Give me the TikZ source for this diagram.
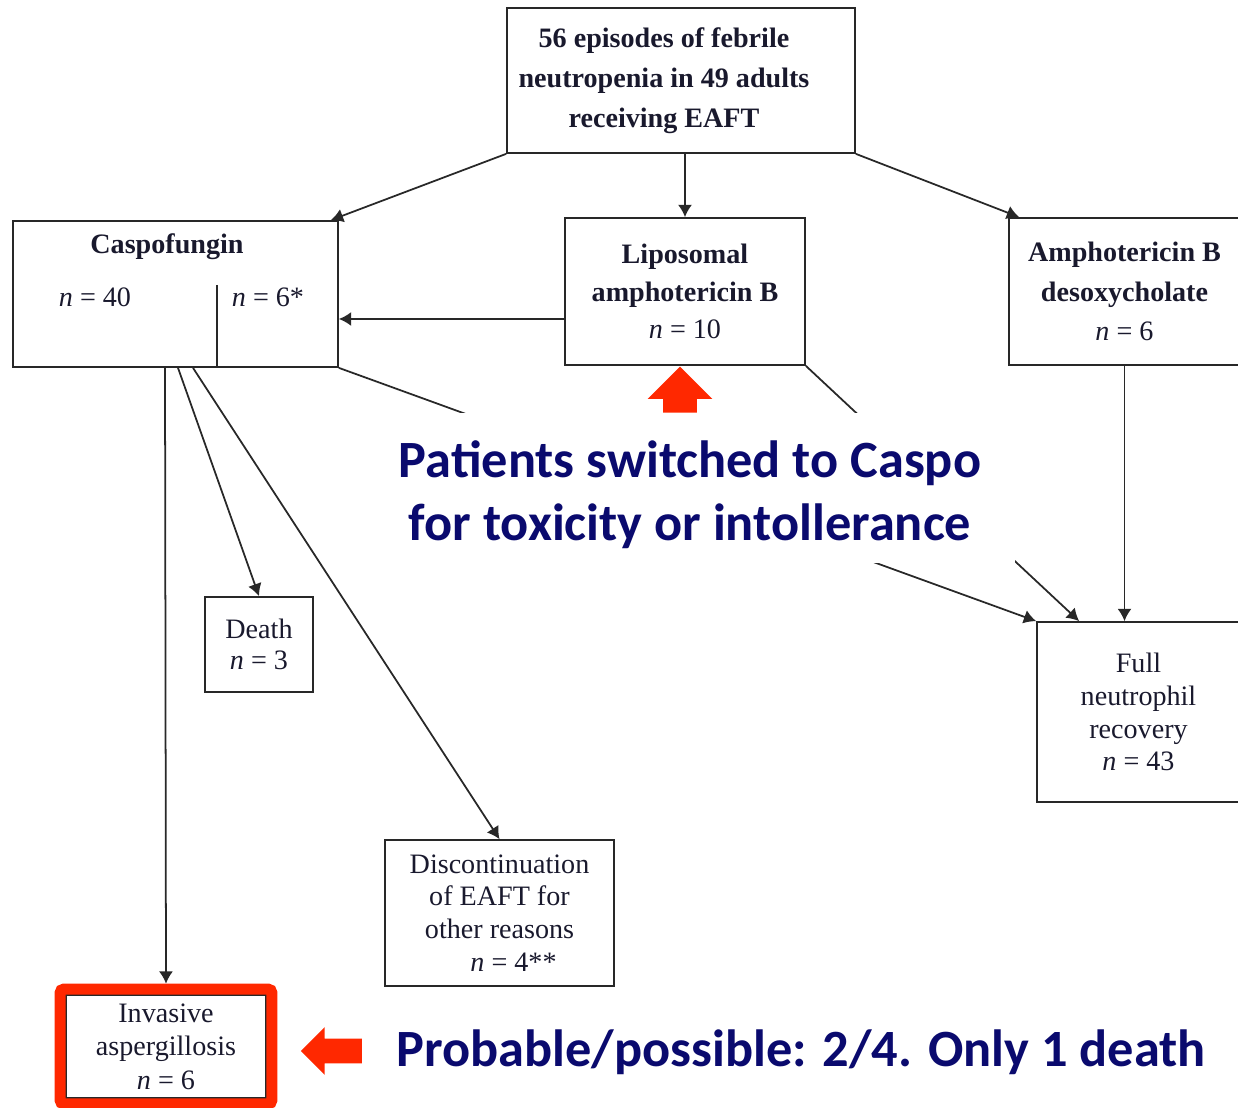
\documentclass[tikz,border=0pt]{standalone}
\usepackage{fontspec}
\setmainfont{Liberation Serif}
\newfontfamily\notefont{Carlito}
\usepackage{xcolor}
\usetikzlibrary{arrows.meta,shapes.arrows,fit}

\definecolor{navytext}{RGB}{10,10,110}
\definecolor{alertred}{RGB}{255,40,0}
\definecolor{boxline}{RGB}{40,40,40}
\definecolor{boxtext}{RGB}{25,25,45}

\begin{document}
\begin{tikzpicture}[x=0.02cm, y=-0.02cm, >={Latex[length=7pt,width=8pt]}]
    \tikzstyle{box}=[rectangle, draw=boxline, line width=1pt, align=center, text=boxtext, inner sep=0pt, font=\fontsize{16}{18.7}\selectfont]
    \tikzstyle{headbox}=[box, font=\fontsize{16}{22.5}\selectfont\bfseries]
    \tikzstyle{plain}=[text=boxtext, inner sep=0pt, align=center, font=\fontsize{16}{19}\selectfont]
    \tikzstyle{link}=[->, draw=boxline, line width=1pt]
    \tikzstyle{note}=[text=navytext, align=center, font=\notefont\bfseries\fontsize{29.8}{35.7}\selectfont]
    \tikzstyle{redarrow}=[single arrow, fill=alertred, inner xsep=0pt, single arrow tip angle=90]

    \useasboundingbox (0,0) rectangle (1238,1108);

    % treatment boxes
    \node[box, minimum width=6.96cm, minimum height=2.9cm] (top) at (681,80.5) {};
    \node[plain, font=\fontsize{16}{22.7}\selectfont\bfseries] (toptext) at (664,81) {56 episodes of febrile\\neutropenia in 49 adults\\receiving EAFT};
    \node[box, minimum width=6.5cm, minimum height=2.92cm] (casp) at (175.5,294) {};
    \node[plain, font=\fontsize{16}{19}\selectfont\bfseries] (casptitle) at (167,247) {Caspofungin};
    \node[plain] (caspfirst) at (95,297) {\textit{n} = 40};
    \node[plain] (caspswitch) at (268,297) {\textit{n} = 6*};
    \coordinate (split) at (217,285);
    \draw[boxline, line width=1pt] (split) -- (split |- casp.south);
    \node[headbox, minimum width=4.8cm, minimum height=2.94cm, font=\fontsize{16}{21.5}\selectfont\bfseries] (lipo) at (685,291.5) {Liposomal\\amphotericin B\\\mdseries\textit{n} = 10};
    \node[headbox, minimum width=4.62cm, minimum height=2.94cm] (ampho) at (1124.5,291.5) {Amphotericin B\\desoxycholate\\\mdseries\textit{n} = 6};

    % outcome boxes
    \node[box, minimum width=2.16cm, minimum height=1.9cm, font=\fontsize{16}{18}\selectfont] (death) at (259,644.5) {Death\\\textit{n} = 3};
    \node[box, minimum width=4.58cm, minimum height=2.92cm] (disc) at (499.5,913) {Discontinuation\\of EAFT for\\other reasons\\\quad\textit{n} = 4**};
    \node[box, minimum width=4.06cm, minimum height=3.6cm] (full) at (1138.5,712) {Full\\neutrophil\\recovery\\\textit{n} = 43};
    \node[box, minimum width=4cm, minimum height=2.06cm, font=\fontsize{16}{19}\selectfont] (inv) at (166,1046.5) {Invasive\\aspergillosis\\\textit{n} = 6};
    \node[draw=alertred, line width=6.2pt, rounded corners=2pt, fit=(inv), inner sep=0.1cm] (invframe) {};

    \draw[link] (top.south west) -- ([xshift=-0.16cm]casp.north east);
    \draw[link] (lipo.north |- top.south) -- (lipo.north);
    \draw[link] (top.south east) -- ([xshift=0.22cm]ampho.north west);
    \draw[link] ([yshift=-0.55cm]lipo.west) -- ([yshift=-0.55cm]lipo.west -| casp.east);
    \draw[link] (casp.south east) -- (full.north west);
    \draw[link] (lipo.south east) -- ([xshift=0.86cm]full.north west);
    \draw[link] (ampho.south) -- (ampho.south |- full.north);
    \draw[link] ([xshift=-0.21cm]casp.south) -- (invframe.north);
    \draw[link] ([xshift=0.05cm]casp.south) -- (death.north);
    \draw[link] ([xshift=0.35cm]casp.south) -- (disc.north);

    % annotations
    \node[fill=white, minimum width=13cm, minimum height=3cm, inner sep=0pt] (cover) at (690,488) {};
    \node[note] (switchnote) at (690,495) {Patients switched to Caspo\\for toxicity or intollerance};
    \node[note] (probnote) at (801,1052) {Probable/possible: 2/4. Only 1 death};
    \node[redarrow, rotate=90, minimum height=0.92cm, inner ysep=0.33cm, single arrow head extend=0.31cm] (uparrow) at (680,398) {};
    \node[redarrow, rotate=180, minimum height=1.22cm, inner ysep=0.24cm, single arrow head extend=0.23cm] (leftarrow) at (337.5,1051) {};
\end{tikzpicture}
\end{document}
